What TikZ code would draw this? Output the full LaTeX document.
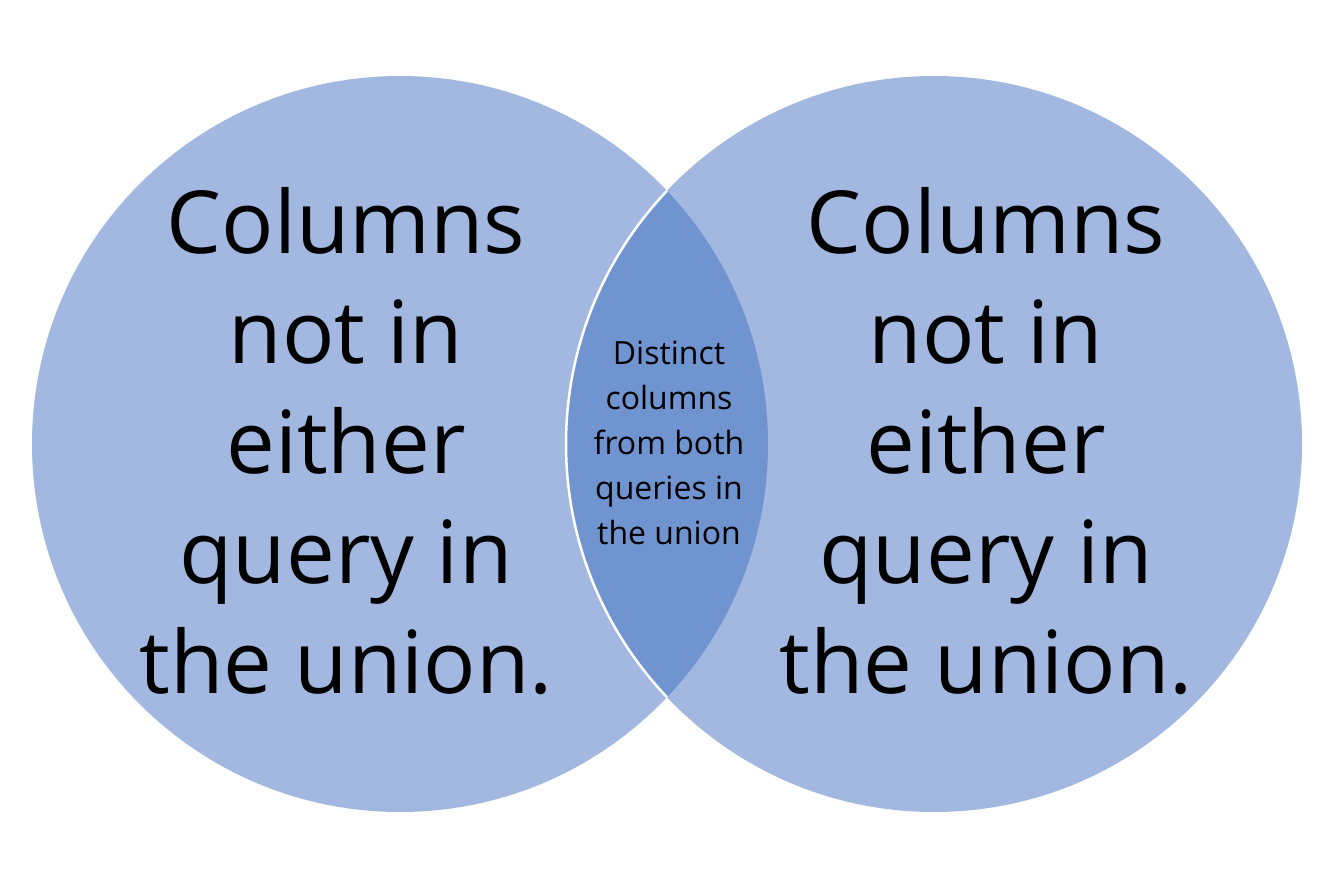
\documentclass[tikz,border=0pt]{standalone}
\usepackage{fontspec}
\setmainfont{Open Sans}
\definecolor{setfill}{HTML}{A2B8E0}
\definecolor{lensfill}{HTML}{7094D0}
\tikzset{
  setcircle/.style={fill=setfill, draw=none},
  bigtext/.style={align=center, font=\fontsize{87}{110}\selectfont, text=black, inner sep=0pt},
  smalltext/.style={align=center, font=\fontsize{32}{45}\selectfont, text=black, inner sep=0pt}
}
\begin{document}
\begin{tikzpicture}[x=1pt,y=-1pt]
  \useasboundingbox (0,0) rectangle (1334,889);
  % the two sets
  \path[setcircle] (400,444) circle (368);
  \path[setcircle] (934,444) circle (368);
  % their overlap
  \begin{scope}
    \clip (400,444) circle (368);
    \fill[lensfill] (934,444) circle (368);
    \draw[white, line width=2.5pt] (934,444) circle (368);
  \end{scope}
  \node[bigtext] (left) at (346,441) {Columns\\not in\\either\\query in\\the union.};
  \node[bigtext] (right) at (986,441) {Columns\\not in\\either\\query in\\the union.};
  \node[smalltext] (mid) at (669,443) {Distinct\\columns\\from both\\queries in\\the union};
\end{tikzpicture}
\end{document}
